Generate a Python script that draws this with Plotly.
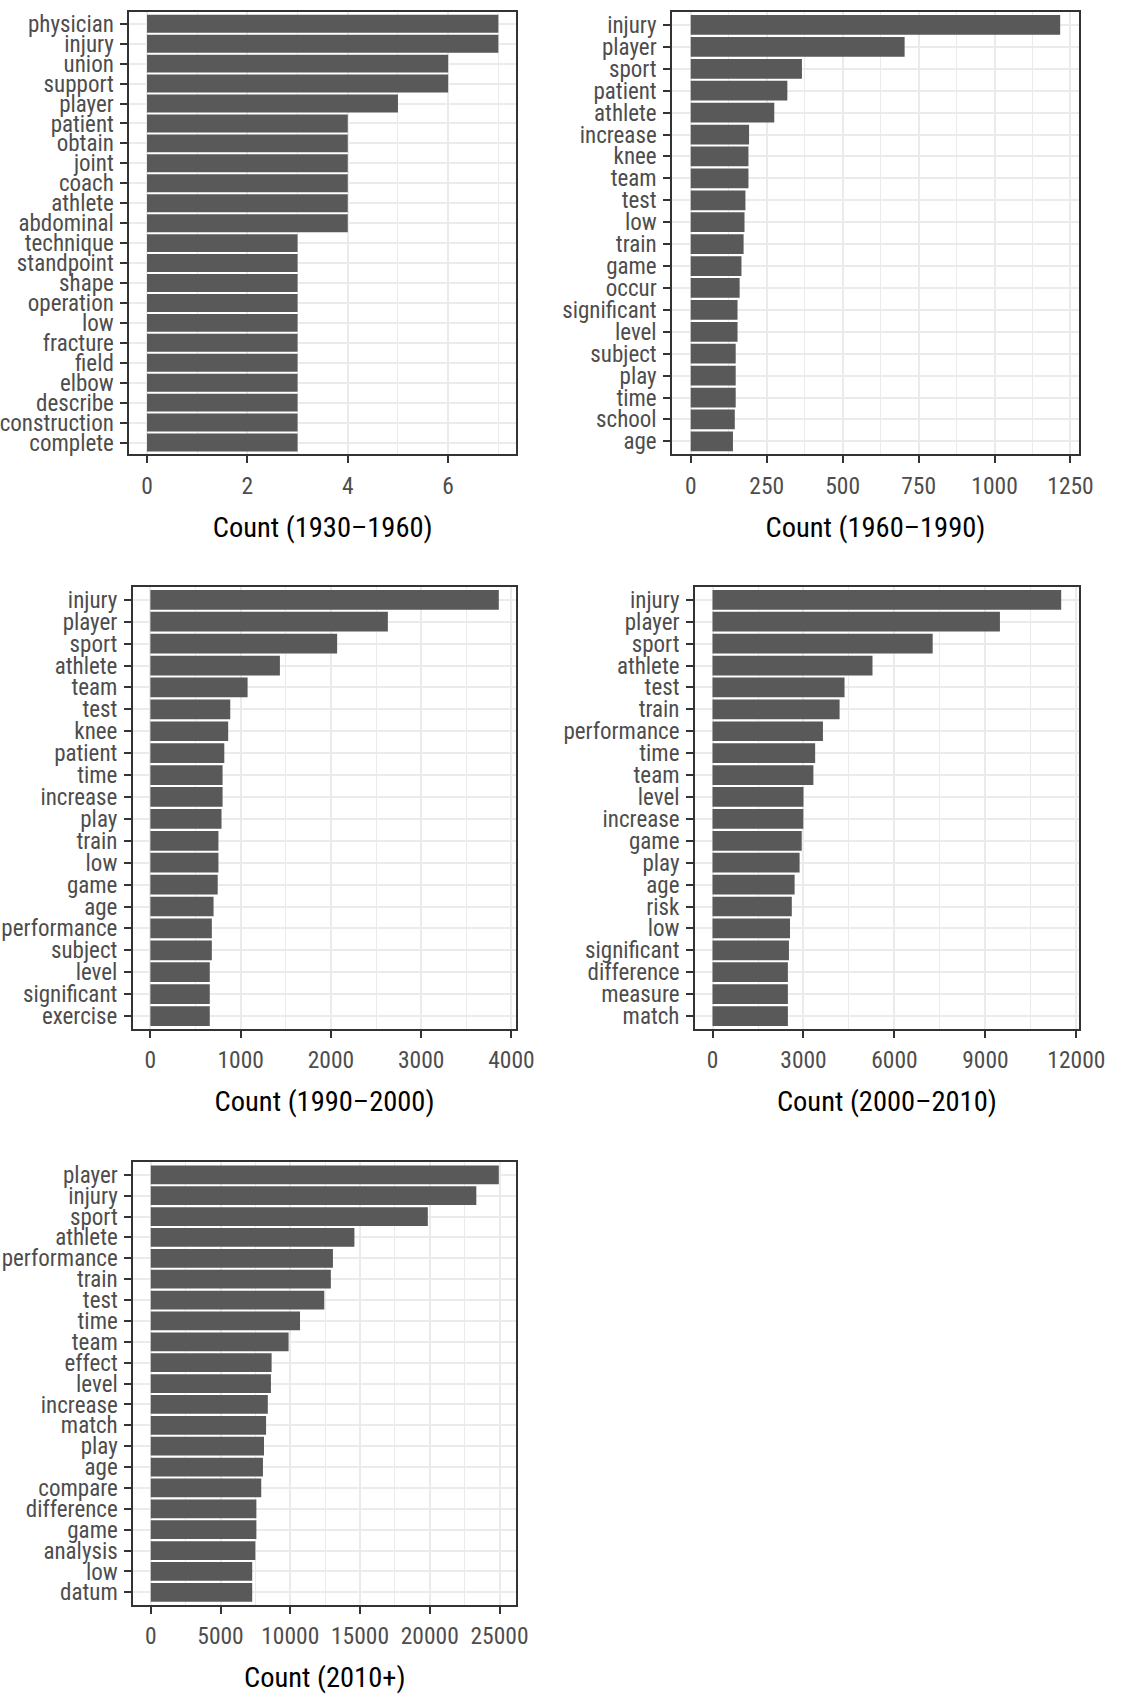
import plotly.graph_objects as go

# ---------------- data ----------------
p1_words = ["physician", "injury", "union", "support", "player", "patient", "obtain", "joint",
            "coach", "athlete", "abdominal", "technique", "standpoint", "shape", "operation",
            "low", "fracture", "field", "elbow", "describe", "construction", "complete"]
p1_counts = [7, 7, 6, 6, 5, 4, 4, 4, 4, 4, 4, 3, 3, 3, 3, 3, 3, 3, 3, 3, 3, 3]

p2_words = ["injury", "player", "sport", "patient", "athlete", "increase", "knee", "team", "test",
            "low", "train", "game", "occur", "significant", "level", "subject", "play", "time",
            "school", "age"]
p2_counts = [1216, 704, 366, 318, 275, 192, 190, 190, 180, 177, 174, 167, 161, 154, 154, 148,
             148, 148, 145, 139]

p3_words = ["injury", "player", "sport", "athlete", "team", "test", "knee", "patient", "time",
            "increase", "play", "train", "low", "game", "age", "performance", "subject", "level",
            "significant", "exercise"]
p3_counts = [3860, 2631, 2069, 1435, 1077, 885, 862, 819, 800, 800, 788, 754, 754, 746, 700, 681,
             681, 658, 658, 658]

p4_words = ["injury", "player", "sport", "athlete", "test", "train", "performance", "time", "team",
            "level", "increase", "game", "play", "age", "risk", "low", "significant", "difference",
            "measure", "match"]
p4_counts = [11500, 9479, 7261, 5276, 4354, 4191, 3642, 3385, 3327, 3000, 2995, 2942, 2872, 2708,
             2615, 2556, 2521, 2486, 2486, 2486]

p5_words = ["player", "injury", "sport", "athlete", "performance", "train", "test", "time", "team",
            "effect", "level", "increase", "match", "play", "age", "compare", "difference", "game",
            "analysis", "low", "datum"]
p5_counts = [24950, 23337, 19861, 14598, 13059, 12910, 12438, 10700, 9881, 8664, 8615, 8391, 8267,
             8118, 8044, 7920, 7572, 7572, 7498, 7274, 7274]

p1_ticks = [0, 2, 4, 6]
p2_ticks = [0, 250, 500, 750, 1000, 1250]
p3_ticks = [0, 1000, 2000, 3000, 4000]
p4_ticks = [0, 3000, 6000, 9000, 12000]
p5_ticks = [0, 5000, 10000, 15000, 20000, 25000]

titles = ["Count (1930\u20131960)", "Count (1960\u20131990)", "Count (1990\u20132000)",
          "Count (2000\u20132010)", "Count (2010+)"]

# ---------------- layout geometry (pixels) ----------------
W, H = 1131, 1701
boxes = [  # left, right, top, bottom
    (131.7, 528.0, 10.8, 454.3),
    (688.3, 1105.0, 10.8, 454.3),
    (135.3, 528.3, 586.7, 1030.0),
    (711.7, 1105.0, 586.7, 1030.0),
    (135.7, 528.3, 1163.3, 1606.7),
]

FONT = "Liberation Sans Narrow, Arial Narrow, Roboto Condensed, sans-serif"
BAR = "#595959"
GRID = "#EBEBEB"
FRAME = "#333333"
TICKTXT = "#4D4D4D"

panels = [
    (p1_words, p1_counts, p1_ticks),
    (p2_words, p2_counts, p2_ticks),
    (p3_words, p3_counts, p3_ticks),
    (p4_words, p4_counts, p4_ticks),
    (p5_words, p5_counts, p5_ticks),
]

fig = go.Figure()
layout = {}
for i, ((words, counts, ticks), (l, r, t, b), ttl) in enumerate(zip(panels, boxes, titles), start=1):
    xa = "x" if i == 1 else f"x{i}"
    ya = "y" if i == 1 else f"y{i}"
    fig.add_trace(go.Bar(
        x=counts, y=words, orientation="h", xaxis=xa, yaxis=ya,
        width=0.9, marker=dict(color=BAR, line=dict(width=0)),
        showlegend=False, hoverinfo="x+y",
    ))
    mx = max(counts)
    n = len(words)
    step = ticks[1] - ticks[0]
    layout["xaxis" if i == 1 else f"xaxis{i}"] = dict(
        domain=[l / W, r / W], anchor=ya,
        range=[-0.05 * mx, 1.05 * mx],
        tickmode="array", tickvals=ticks, ticktext=[str(v) for v in ticks],
        showgrid=True, gridcolor=GRID, gridwidth=2.2,
        minor=dict(tickmode="linear", tick0=0, dtick=step / 2, showgrid=True,
                   gridcolor=GRID, gridwidth=1.1, ticks=""),
        zeroline=False,
        showline=True, mirror=True, linecolor=FRAME, linewidth=2,
        ticks="outside", ticklen=7, tickwidth=2, tickcolor=FRAME,
        tickfont=dict(family=FONT, size=23.5, color=TICKTXT),
        ticklabelstandoff=2,
        title=dict(text=ttl, font=dict(family=FONT, size=28.5, color="black"), standoff=18),
        fixedrange=True,
    )
    layout["yaxis" if i == 1 else f"yaxis{i}"] = dict(
        domain=[1 - b / H, 1 - t / H], anchor=xa,
        type="category", categoryorder="array", categoryarray=list(reversed(words)),
        range=[-0.6, n - 0.4],
        tickmode="linear", tick0=0, dtick=1,
        showgrid=True, gridcolor=GRID, gridwidth=2.4,
        zeroline=False,
        showline=True, mirror=True, linecolor=FRAME, linewidth=2,
        ticks="outside", ticklen=7, tickwidth=2, tickcolor=FRAME,
        tickfont=dict(family=FONT, size=23, color=TICKTXT),
        ticklabelstandoff=2,
        fixedrange=True,
    )

fig.update_layout(
    width=W, height=H,
    margin=dict(l=0, r=0, t=0, b=0),
    paper_bgcolor="white", plot_bgcolor="white",
    font=dict(family=FONT, color=TICKTXT),
    bargap=0.1,
    **layout,
)

fig.write_html(
    "out.html",
    config={"displayModeBar": False},
    post_script="document.body.style.margin='0';document.body.style.overflow='hidden';",
)
